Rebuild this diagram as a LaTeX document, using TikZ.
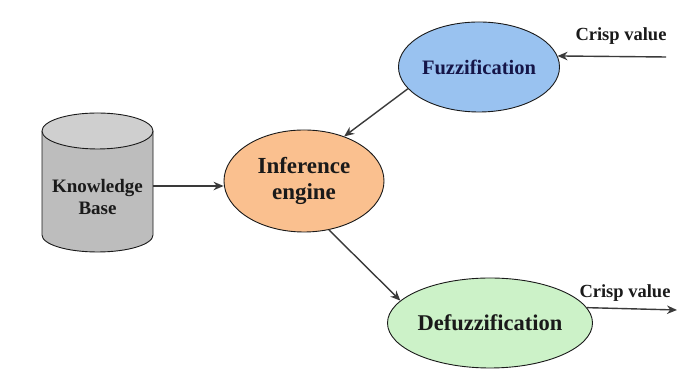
\documentclass[tikz,border=0pt]{standalone}
\usepackage{fontspec}
\setmainfont{Liberation Serif}
\usetikzlibrary{shapes.geometric,arrows.meta}
\definecolor{infill}{HTML}{FAC08F}
\definecolor{fuzfill}{HTML}{99C2F0}
\definecolor{deffill}{HTML}{CCF2C8}
\definecolor{cylbody}{HTML}{BDBDBD}
\definecolor{cyltop}{HTML}{CFCFCF}
\definecolor{ink}{HTML}{1A1A1A}
\definecolor{wire}{HTML}{3A3A3A}
\begin{document}
\begin{tikzpicture}[x=1pt,y=1pt,
  blob/.style={ellipse,draw=ink,line width=0.9pt,inner sep=0pt,align=center,text=ink,font=\bfseries},
  link/.style={draw=wire,line width=1.4pt,-{Stealth[length=10pt,width=8.5pt]}},
  tag/.style={text=ink,font=\fontsize{18.5}{21}\selectfont\bfseries}]
\useasboundingbox (0,0) rectangle (678,374);
\fill[white] (0,0) rectangle (678,374);

% knowledge base cylinder
\fill[cylbody] (42,243) -- (42,139) arc[start angle=180,end angle=360,x radius=55.5pt,y radius=17pt] -- (153,243) -- cycle;
\draw[ink,line width=0.9pt] (42,243) -- (42,139) arc[start angle=180,end angle=360,x radius=55.5pt,y radius=17pt] -- (153,243);
\filldraw[fill=cyltop,draw=ink,line width=0.9pt] (97.5,243) ellipse[x radius=55.5pt,y radius=18pt];
\node[align=center,text=ink,font=\fontsize{19}{22}\selectfont\bfseries] (kb) at (97.5,177) {Knowledge\\Base};
\coordinate (kbout) at (153,188);

% processing stages
\node[blob,minimum width=160pt,minimum height=102pt,fill=infill,font=\fontsize{23}{26}\selectfont\bfseries] (inf) at (304,193) {Inference\\engine};
\node[blob,minimum width=148pt,minimum height=90pt,fill=fuzfill,font=\fontsize{20.5}{23}\selectfont\bfseries,text=ink!80!blue] (fuz) at (479,307) {Fuzzification};
\node[blob,minimum width=166pt,minimum height=90pt,fill=deffill,font=\fontsize{22.5}{25}\selectfont\bfseries] (def) at (490,51) {Defuzzification};

% crisp input and output
\coordinate (cin) at (666,317);
\coordinate (cout) at (677,64);
\node[tag] (cintag) at (621,338) {Crisp value};
\node[tag] (couttag) at (625,81) {Crisp value};

% connectors
\draw[link] (kbout) -- (kbout -| inf.west);
\draw[link] (cin) -- (fuz.8);
\draw[link] (fuz.197) -- (inf.48);
\draw[link] (inf.-63) -- (def.166);
\draw[link] (def.9) -- (cout);
\end{tikzpicture}
\end{document}
